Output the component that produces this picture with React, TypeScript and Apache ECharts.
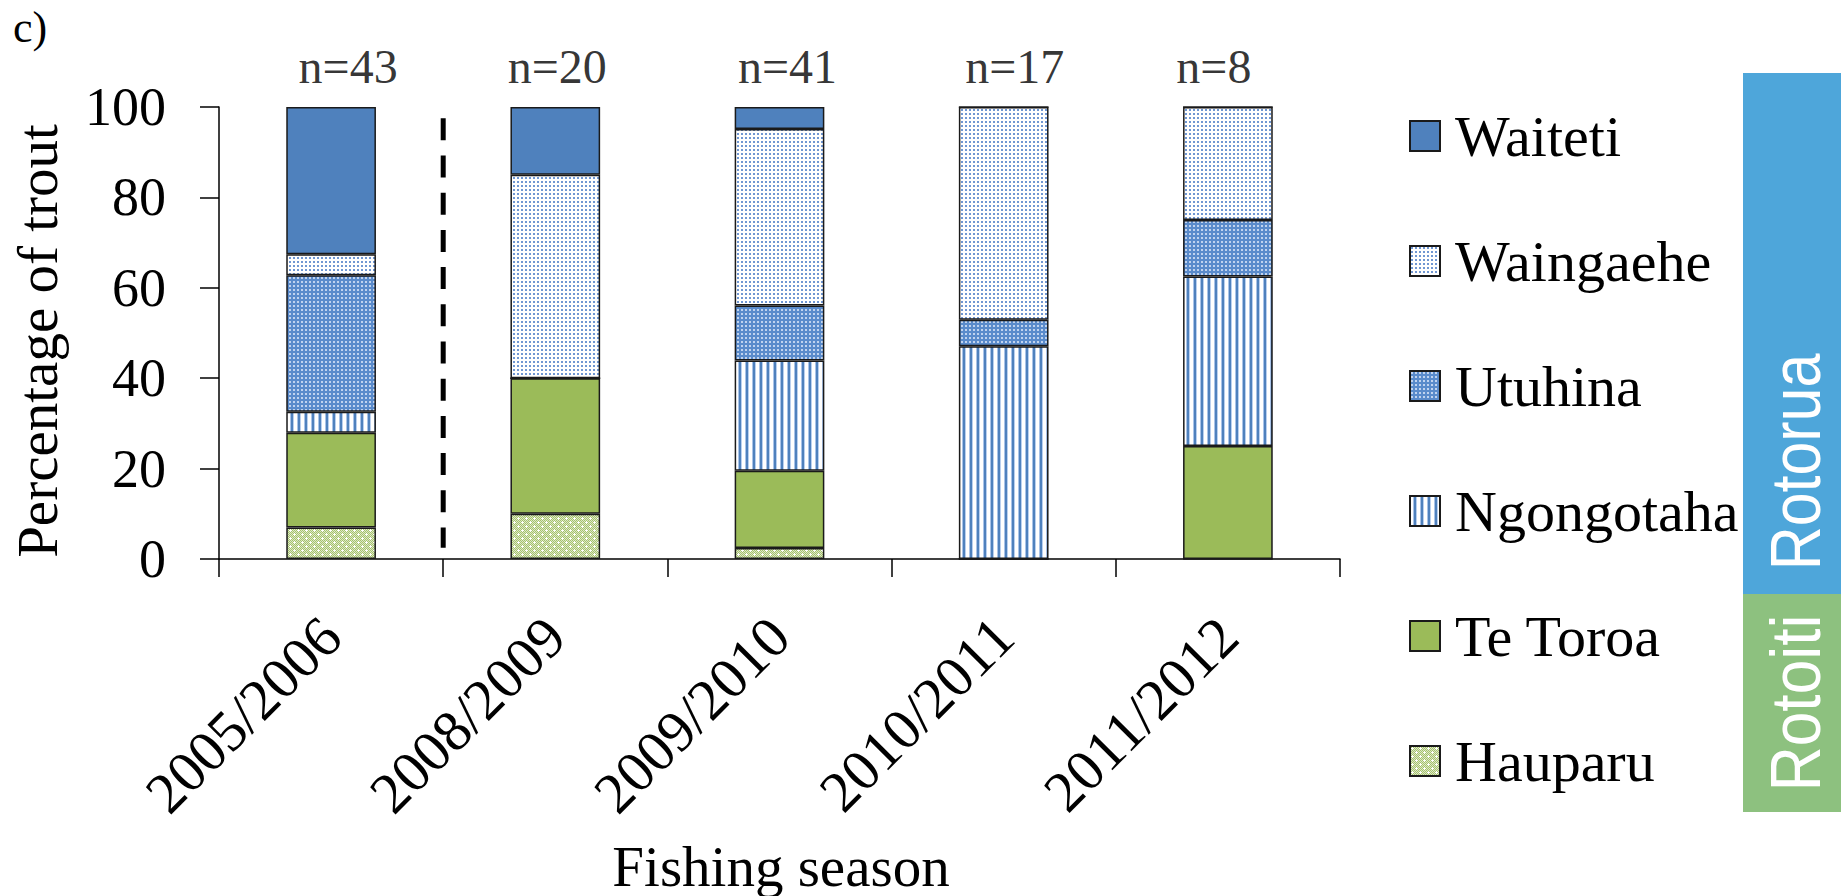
import React, { useEffect, useRef } from 'react';
import * as echarts from 'echarts';

// ---- data ----
const seasons = ['2005/2006', '2008/2009', '2009/2010', '2010/2011', '2011/2012'];
const sampleSizes = [43, 20, 41, 17, 8];
const hauparu = [6.98, 10, 2.44, 0, 0];
const teToroa = [20.93, 30, 17.07, 0, 25];
const ngongotaha = [4.65, 0, 24.39, 47.06, 37.5];
const utuhina = [30.23, 0, 12.2, 5.88, 12.5];
const waingaehe = [4.65, 45, 39.02, 47.06, 25];
const waiteti = [32.56, 15, 4.88, 0, 0];
const legendOrder = ['Waiteti', 'Waingaehe', 'Utuhina', 'Ngongotaha', 'Te Toroa', 'Hauparu'];
const lakeNames = ['Rotorua', 'Rotoiti'];
const breakLineX = 1; // boundary between 1st and 2nd season
const breakLineY = [97.5, 2.5];

// ---- styles ----
const SERIF = '"Liberation Serif", "Times New Roman", serif';
const nLabelShift = [17, 2, 8, 11, -14];

function makePattern(w: number, h: number, draw: (ctx: CanvasRenderingContext2D) => void) {
  const c = document.createElement('canvas');
  c.width = w;
  c.height = h;
  const ctx = c.getContext('2d') as CanvasRenderingContext2D;
  draw(ctx);
  return { image: c, repeat: 'repeat', imageWidth: w, imageHeight: h } as any;
}

export default function App() {
  const ref = useRef<HTMLDivElement>(null);

  useEffect(() => {
    document.body.style.margin = '0';
    if (!ref.current) return;
    const chart = echarts.init(ref.current, null, { renderer: 'svg' });

    const waingaehePat = makePattern(4, 4, (ctx) => {
      ctx.fillStyle = '#ffffff';
      ctx.fillRect(0, 0, 4, 4);
      ctx.fillStyle = '#7097d2';
      ctx.fillRect(1, 1, 2, 2);
    });
    const utuhinaPat = makePattern(4, 4, (ctx) => {
      ctx.fillStyle = '#5a8bcb';
      ctx.fillRect(0, 0, 4, 4);
      ctx.fillStyle = '#c0d3ef';
      ctx.fillRect(1, 1, 2, 2);
    });
    const ngongotahaPat = makePattern(7, 4, (ctx) => {
      ctx.fillStyle = '#ffffff';
      ctx.fillRect(0, 0, 7, 4);
      ctx.fillStyle = '#a9c3e8';
      ctx.fillRect(3, 0, 1, 4);
      ctx.fillStyle = '#4f81bd';
      ctx.fillRect(4, 0, 2, 4);
      ctx.fillStyle = '#b9cfee';
      ctx.fillRect(6, 0, 1, 4);
    });
    const hauparuPat = makePattern(8, 8, (ctx) => {
      for (let y = 0; y < 8; y++) {
        for (let x = 0; x < 8; x++) {
          ctx.fillStyle = (x + y) % 2 === 0 ? '#a6c26c' : '#dde9c8';
          ctx.fillRect(x, y, 1, 1);
        }
      }
      ctx.fillStyle = '#ffffff';
      const plus = (cx: number, cy: number) => {
        ctx.fillRect(cx - 1, cy, 3, 1);
        ctx.fillRect(cx, cy - 1, 1, 3);
      };
      plus(2, 2);
      plus(6, 6);
    });

    const bar = (name: string, data: number[], color: any) => ({
      name,
      type: 'bar',
      stack: 'total',
      data,
      barWidth: '40%',
      itemStyle: { color, borderColor: '#1a1a1a', borderWidth: 1.5 },
      emphasis: { disabled: true },
    });

    const option: any = {
      animation: false,
      backgroundColor: '#ffffff',
      grid: { left: 219, right: 501, top: 107, bottom: 337, containLabel: false },
      xAxis: [
        {
          type: 'category',
          data: seasons,
          axisLine: { show: true, lineStyle: { color: '#000', width: 1.5 } },
          axisTick: { show: true, length: 18, lineStyle: { color: '#000', width: 1.5 } },
          axisLabel: {
            interval: 0,
            rotate: 45,
            margin: 68,
            verticalAlign: 'middle',
            color: '#000',
            fontFamily: SERIF,
            fontSize: 58,
          },
          splitLine: { show: false },
        },
        { type: 'value', min: 0, max: seasons.length, show: false },
      ],
      yAxis: {
        type: 'value',
        min: 0,
        max: 100,
        interval: 20,
        axisLine: { show: true, lineStyle: { color: '#000', width: 1.5 } },
        axisTick: { show: true, length: 19, lineStyle: { color: '#000', width: 1.5 } },
        axisLabel: { margin: 53, color: '#000', fontFamily: SERIF, fontSize: 54 },
        splitLine: { show: false },
      },
      legend: {
        data: legendOrder,
        orient: 'vertical',
        left: 1409,
        top: 107,
        padding: 0,
        itemWidth: 30,
        itemHeight: 30,
        itemGap: 67,
        icon: 'rect',
        selectedMode: false,
        textStyle: {
          fontFamily: SERIF,
          fontSize: 58,
          color: '#000',
          padding: [0, 0, 0, 10],
        },
      },
      series: [
        bar('Hauparu', hauparu, hauparuPat),
        bar('Te Toroa', teToroa, '#9bbb59'),
        bar('Ngongotaha', ngongotaha, ngongotahaPat),
        bar('Utuhina', utuhina, utuhinaPat),
        bar('Waingaehe', waingaehe, waingaehePat),
        bar('Waiteti', waiteti, '#4f81bd'),
        {
          type: 'scatter',
          silent: true,
          symbol: 'rect',
          symbolSize: 1,
          itemStyle: { color: 'rgba(0,0,0,0)' },
          data: sampleSizes.map((n, i) => ({
            value: [i, 100],
            label: { offset: [nLabelShift[i], -41] },
          })),
          label: {
            show: true,
            position: 'inside',
            formatter: (p: any) => 'n=' + sampleSizes[p.dataIndex],
            color: '#000',
            textBorderWidth: 0,
            fontFamily: SERIF,
            fontSize: 48,
          },
          z: 10,
        },
        {
          type: 'line',
          xAxisIndex: 1,
          silent: true,
          symbol: 'none',
          data: breakLineY.map((y) => [breakLineX, y]),
          lineStyle: { color: '#000', width: 5, type: [22, 15.2] },
          z: 5,
        },
      ],
      graphic: [
        {
          type: 'text',
          x: 13,
          y: 27,
          style: {
            text: 'c)',
            fontFamily: SERIF,
            fontSize: 44,
            fill: '#000',
            align: 'left',
            verticalAlign: 'middle',
            textAlign: 'left',
            textVerticalAlign: 'middle',
          },
        },
        {
          type: 'text',
          x: 37,
          y: 341,
          rotation: Math.PI / 2,
          style: {
            text: 'Percentage of trout',
            fontFamily: SERIF,
            fontSize: 57,
            fill: '#000',
            align: 'center',
            verticalAlign: 'middle',
            textAlign: 'center',
            textVerticalAlign: 'middle',
          },
        },
        {
          type: 'text',
          x: 781,
          y: 866,
          style: {
            text: 'Fishing season',
            fontFamily: SERIF,
            fontSize: 57,
            fill: '#000',
            align: 'center',
            verticalAlign: 'middle',
            textAlign: 'center',
            textVerticalAlign: 'middle',
          },
        },
        {
          type: 'rect',
          shape: { x: 1743, y: 73, width: 98, height: 521 },
          style: { fill: '#4ea6da' },
        },
        {
          type: 'rect',
          shape: { x: 1743, y: 594, width: 98, height: 218 },
          style: { fill: '#8dc17f' },
        },
        {
          type: 'text',
          x: 1796,
          y: 462,
          rotation: Math.PI / 2,
          scaleX: 0.87,
          style: {
            text: lakeNames[0],
            fontFamily: '"Liberation Sans", Arial, sans-serif',
            fontSize: 70,
            fill: '#ffffff',
            align: 'center',
            verticalAlign: 'middle',
            textAlign: 'center',
            textVerticalAlign: 'middle',
          },
        },
        {
          type: 'text',
          x: 1796,
          y: 703,
          rotation: Math.PI / 2,
          scaleX: 0.89,
          style: {
            text: lakeNames[1],
            fontFamily: '"Liberation Sans", Arial, sans-serif',
            fontSize: 70,
            fill: '#ffffff',
            align: 'center',
            verticalAlign: 'middle',
            textAlign: 'center',
            textVerticalAlign: 'middle',
          },
        },
      ],
    };

    chart.setOption(option);
    return () => chart.dispose();
  }, []);

  return (
    <div
      ref={ref}
      style={{ position: 'fixed', left: 0, top: 0, width: 1841, height: 896, background: '#fff' }}
    />
  );
}
